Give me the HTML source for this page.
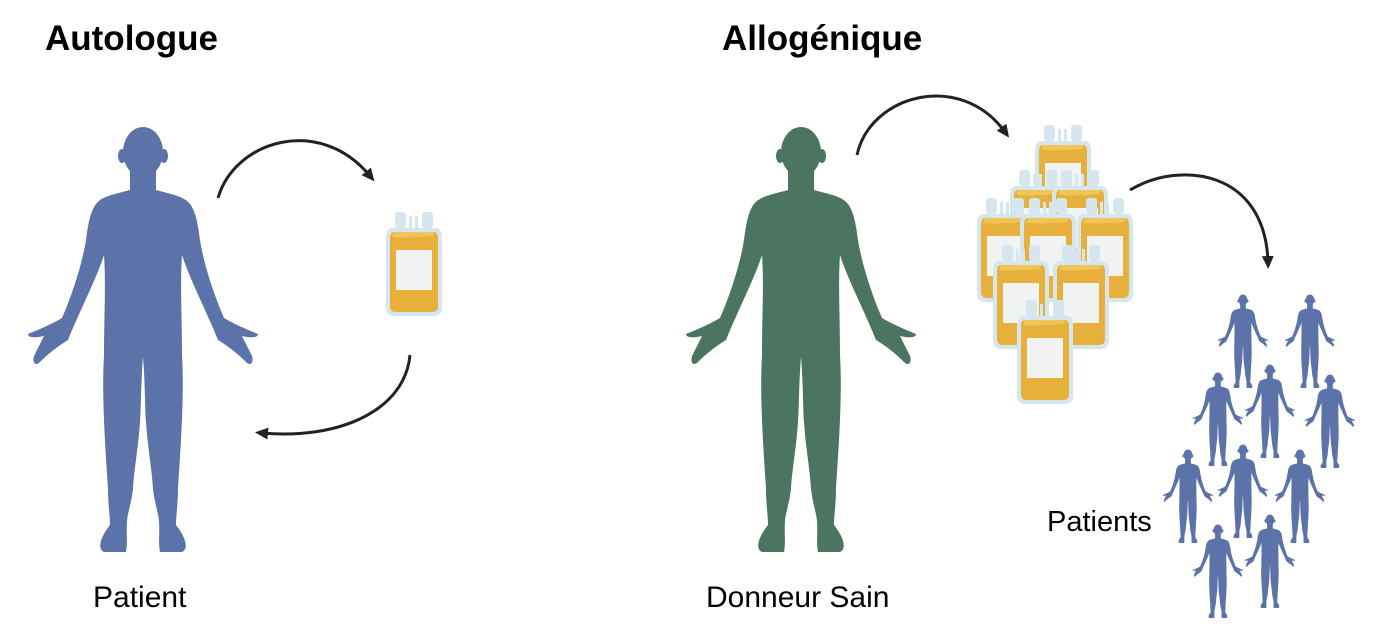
<!DOCTYPE html>
<html><head><meta charset="utf-8"><style>
html,body{margin:0;padding:0;background:#fff;}
svg{display:block;}
text{font-family:"Liberation Sans",Arial,sans-serif;fill:#000;}
</style></head><body>
<svg width="1380" height="640" viewBox="0 0 1380 640" xmlns="http://www.w3.org/2000/svg">
<defs>
<g id="person">
<ellipse cx="127" cy="32" rx="20" ry="25"/>
<ellipse cx="106" cy="36" rx="4" ry="7"/>
<ellipse cx="148" cy="36" rx="4" ry="7"/>
<path d="M114,50 L114,70 C100,74 86,76 80,84 C74,92 72,105 70,120 C66,145 56,175 46,198 C36,204 22,210 12,214 C12,218 20,218 28,216 L18,236 C16,244 20,246 24,242 C32,234 42,226 52,220 C64,190 80,160 88,135 C90,165 88,195 88,235 C86,270 88,310 92,368 C92,385 94,395 94,405 C86,415 80,428 88,432 L110,432 C112,422 110,412 111,402 C111,395 115,385 117,369 C118,350 122,330 124,302 C125,290 125,260 127,237 C129,260 129,290 130,302 C132,330 136,350 137,369 C139,385 143,395 143,402 C144,412 142,422 144,432 L166,432 C174,428 168,415 160,405 C160,395 162,385 162,368 C166,310 168,270 166,235 C166,195 164,165 166,135 C174,160 190,190 202,220 C212,226 222,234 230,242 C234,246 238,244 236,236 L226,216 C234,218 242,218 242,214 C232,210 218,204 208,198 C198,175 188,145 184,120 C182,105 180,92 174,84 C168,76 154,74 140,70 L140,50 Z"/>
</g>
<g id="bag">
<rect x="9" y="0" width="11" height="16" rx="3" fill="#d6e6ee"/>
<rect x="36" y="0" width="11" height="16" rx="3" fill="#d6e6ee"/>
<rect x="23" y="4" width="3" height="12" fill="#d6e6ee"/>
<rect x="29" y="4" width="3" height="12" fill="#d6e6ee"/>
<path d="M6,16 L50,16 C54,16 56,20 56,26 L56,96 C56,101 53,104 48,104 L8,104 C3,104 0,101 0,96 L0,26 C0,20 2,16 6,16 Z" fill="#d6e6ee"/>
<path d="M8,20 L48,20 C51,20 52,23 52,27 L52,94 C52,98 50,100 46,100 L10,100 C6,100 4,98 4,94 L4,27 C4,23 5,20 8,20 Z" fill="#e6b03a"/>
<path d="M8,20 L48,20 C50,22 46,26 40,24 C34,27 28,23 22,26 C16,24 10,27 6,24 Z" fill="#f0c457"/>
<rect x="10" y="38" width="36" height="40" fill="#f1f2f2"/>
</g>
<marker id="ah" markerWidth="14" markerHeight="12" refX="6" refY="6" orient="auto" markerUnits="userSpaceOnUse"><path d="M0,0 L13,6 L0,12 Z" fill="#222"/></marker>
</defs>

<text x="45" y="50" font-size="35" font-weight="bold">Autologue</text>
<text x="722" y="50" font-size="35" font-weight="bold">Allogénique</text>
<text x="93" y="607" font-size="30">Patient</text>
<text x="706" y="607" font-size="30">Donneur Sain</text>
<text x="1047" y="531" font-size="29">Patients</text>

<use href="#person" transform="translate(16,120)" fill="#5b73a8"/>
<use href="#person" transform="translate(674,120)" fill="#4b7560"/>

<g fill="#5b73a8">
<use href="#person" transform="translate(1215,293) scale(0.22)"/>
<use href="#person" transform="translate(1282,293) scale(0.22)"/>
<use href="#person" transform="translate(1190,371) scale(0.22)"/>
<use href="#person" transform="translate(1242,363) scale(0.22)"/>
<use href="#person" transform="translate(1302,373) scale(0.22)"/>
<use href="#person" transform="translate(1160,448) scale(0.22)"/>
<use href="#person" transform="translate(1215,443) scale(0.22)"/>
<use href="#person" transform="translate(1272,448) scale(0.22)"/>
<use href="#person" transform="translate(1190,523) scale(0.22)"/>
<use href="#person" transform="translate(1242,513) scale(0.22)"/>
</g>

<use href="#bag" transform="translate(386,212)"/>

<use href="#bag" transform="translate(1035,125)"/>
<use href="#bag" transform="translate(1010,170)"/>
<use href="#bag" transform="translate(1052,170)"/>
<use href="#bag" transform="translate(977,198)"/>
<use href="#bag" transform="translate(1020,198)"/>
<use href="#bag" transform="translate(1077,198)"/>
<use href="#bag" transform="translate(993,245)"/>
<use href="#bag" transform="translate(1053,245)"/>
<use href="#bag" transform="translate(1017,300)"/>

<g fill="none" stroke="#222" stroke-width="3">
<path d="M218,198 C235,140 320,115 370,176" marker-end="url(#ah)"/>
<path d="M410,355 C405,410 340,440 262,433" marker-end="url(#ah)"/>
<path d="M857,155 C870,95 960,70 1005,132" marker-end="url(#ah)"/>
<path d="M1130,190 C1180,160 1265,170 1268,262" marker-end="url(#ah)"/>
</g>
</svg>
</body></html>
